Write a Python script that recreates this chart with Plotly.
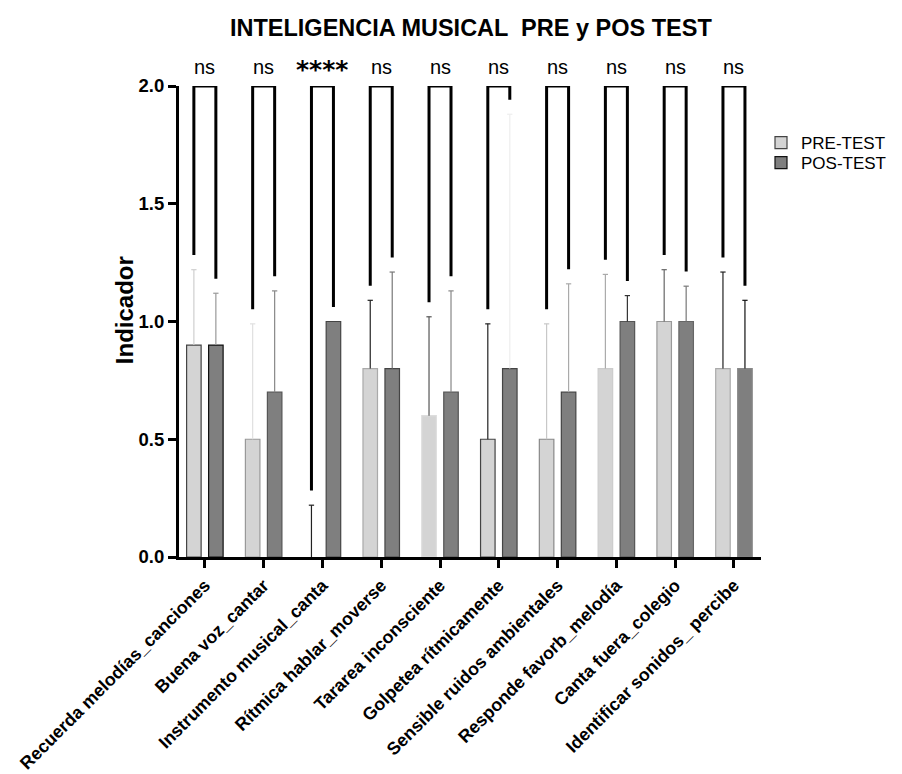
import plotly.graph_objects as go

categories = ["Recuerda melodías_canciones", "Buena voz_cantar", "Instrumento musical_canta",
              "Rítmica hablar_moverse", "Tararea inconsciente", "Golpetea rítmicamente",
              "Sensible ruidos ambientales", "Responde favorb_melodía", "Canta fuera_colegio",
              "Identificar sonidos_ percibe"]
pre_mean = [0.9, 0.5, 0.0, 0.8, 0.6, 0.5, 0.5, 0.8, 1.0, 0.8]
pre_sd = [0.32, 0.49, 0.22, 0.29, 0.42, 0.49, 0.49, 0.40, 0.22, 0.41]
pos_mean = [0.9, 0.7, 1.0, 0.8, 0.7, 0.8, 0.7, 1.0, 1.0, 0.8]
pos_sd = [0.22, 0.43, 0.0, 0.41, 0.43, 1.08, 0.46, 0.11, 0.15, 0.29]
signif = ["ns", "ns", "****", "ns", "ns", "ns", "ns", "ns", "ns", "ns"]

# styles
PRE_FILL = "#d4d4d4"
POS_FILL = "#7f7f7f"
pre_line = ["#444", "#999", "#fff", "#aaa", "#ddd", "#444", "#888", "#ccc", "#999", "#aaa"]
pos_line = ["#111", "#555", "#444", "#444", "#555", "#444", "#444", "#555", "#666", "#888"]
pre_err_col = ["#cfcfcf", "#e0e0e0", "#222", "#222", "#555", "#222", "#c8c8c8", "#aaa", "#666", "#222"]
pos_err_col = ["#999", "#888", "#888", "#777", "#888", "#eeeeee", "#aaa", "#333", "#777", "#111"]
OFF = 0.187
BW = 0.247
GAP = 0.062
FONT = "Liberation Sans, Arial, sans-serif"

idx = list(range(len(categories)))
x_pre = [i - OFF for i in idx]
x_pos = [i + OFF for i in idx]

fig = go.Figure()
fig.add_trace(go.Bar(x=x_pre, y=pre_mean, width=BW, name="PRE-TEST", legend="legend",
                     marker=dict(color=PRE_FILL, line=dict(color=pre_line, width=1.2))))
fig.add_trace(go.Bar(x=x_pos, y=pos_mean, width=BW, name="POS-TEST", legend="legend2",
                     marker=dict(color=POS_FILL, line=dict(color=pos_line, width=1.2))))

shapes = []
cap = 0.045
for i in idx:
    for xs, m, s, c in ((x_pre[i], pre_mean[i], pre_sd[i], pre_err_col[i]),
                        (x_pos[i], pos_mean[i], pos_sd[i], pos_err_col[i])):
        if s > 0:
            shapes.append(dict(type="line", xref="x", yref="y", x0=xs, x1=xs, y0=m, y1=m + s,
                               line=dict(color=c, width=1.2)))
            shapes.append(dict(type="line", xref="x", yref="y", x0=xs - cap, x1=xs + cap,
                               y0=m + s, y1=m + s, line=dict(color=c, width=1.2)))
    yl = pre_mean[i] + pre_sd[i] + GAP
    yr = pos_mean[i] + pos_sd[i] + GAP
    path = f"M {x_pre[i]} {yl} L {x_pre[i]} 2 L {x_pos[i]} 2 L {x_pos[i]} {yr}"
    shapes.append(dict(type="path", xref="x", yref="y", path=path,
                       line=dict(color="black", width=3)))

annotations = []
for i in idx:
    if signif[i] == "ns":
        f = dict(family=FONT, size=20, color="black")
        ys = 19
    else:
        f = dict(family="DejaVu Sans, sans-serif", size=25, color="black", weight="bold")
        ys = 17
    annotations.append(dict(x=i, y=2.0, xref="x", yref="y", text=signif[i], showarrow=False,
                            yshift=ys, font=f))
annotations.append(dict(x=-0.0945, y=0.524, xref="paper", yref="paper", text="<b>Indicador</b>",
                        textangle=-90, showarrow=False, xanchor="center", yanchor="middle",
                        font=dict(family=FONT, size=24, color="black")))

leg_common = dict(x=1.0, xanchor="left", yanchor="middle", bgcolor="rgba(0,0,0,0)",
                  font=dict(family=FONT, size=17, color="black"), itemwidth=30)

fig.update_layout(
    width=902, height=774,
    paper_bgcolor="white", plot_bgcolor="white",
    margin=dict(l=179, r=141, t=86, b=217, autoexpand=False),
    title=dict(text="<b>INTELIGENCIA MUSICAL  PRE y POS TEST</b>", x=0.522, xanchor="center",
               y=0.964, yanchor="middle", font=dict(family=FONT, size=23.5, color="black")),
    barmode="overlay",
    showlegend=True,
    legend=dict(y=0.879, **leg_common),
    legend2=dict(y=0.8365, **leg_common),
    shapes=shapes,
    annotations=annotations,
)
fig.update_xaxes(range=[-0.44, 9.46], tickmode="array", tickvals=idx, ticktext=categories,
                 tickangle=-45, showline=True, linecolor="black", linewidth=3, ticks="outside",
                 ticklen=8, tickwidth=3, tickcolor="black", showgrid=False, zeroline=False,
                 tickfont=dict(family=FONT, size=17.8, color="black", weight="bold"))
fig.update_yaxes(range=[0, 2.0], tickmode="array", tickvals=[0, 0.5, 1.0, 1.5, 2.0],
                 tickformat=".1f", showline=True, linecolor="black", linewidth=3, ticks="outside",
                 ticklen=8, tickwidth=3, tickcolor="black", showgrid=False, zeroline=False,
                 tickfont=dict(family=FONT, size=18.5, color="black", weight="bold"))

fig.write_html("out.html", post_script="document.body.style.margin='0';",
               config={"displayModeBar": False})
